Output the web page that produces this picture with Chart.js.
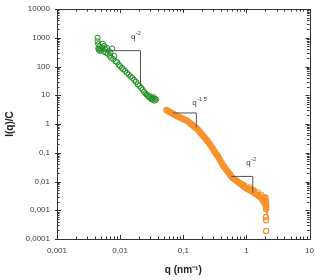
<!DOCTYPE html>
<html>
<head>
<meta charset="utf-8">
<script src="https://cdn.jsdelivr.net/npm/chart.js@4/dist/chart.umd.min.js"></script>
<style>
html,body{margin:0;padding:0;background:#fff}
#wrap{width:321px;height:280px}
</style>
</head>
<body>
<div id="wrap"><canvas id="saxs"></canvas></div>
<script>
// green curve (low q)
var greenQ=[0.0044,0.0044,0.0045,0.0045,0.0046,0.0047,0.0048,0.0049,0.0050,0.0052,0.0053,0.0055,0.0056,0.0058,0.0060,0.0062,0.0064,0.0066,0.0068,0.0070,0.0072,0.0075,0.0078,0.0081,0.0085,0.0090,0.0095,0.0100,0.0106,0.0112,0.0120,0.0128,0.0137,0.0146,0.0156,0.0167,0.0178,0.0190,0.0202,0.0215,0.0228,0.0240,0.0252,0.0264,0.0276,0.0288,0.0300,0.0310,0.0320,0.0330,0.0340,0.0350,0.0360,0.0370]
var greenI=[1000,750,420,600,380,500,350,430,390,460,620,330,520,400,300,440,280,350,240,300,200,420,180,230,150,140,115,102,90,80,70,60,52,45,40,34,29,24,21,18,15.5,13,11.5,10.5,9.5,8.5,9,7.5,8,7,8.5,6.5,7.5,7]

// orange curve (high q)
var orangeQ=[0.054,0.0565,0.059,0.062,0.065,0.068,0.071,0.074,0.078,0.081,0.085,0.089,0.093,0.098,0.102,0.107,0.112,0.117,0.123,0.129,0.135,0.141,0.148,0.155,0.162,0.170,0.178,0.186,0.195,0.204,0.214,0.224,0.234,0.245,0.257,0.269,0.282,0.295,0.309,0.324,0.339,0.355,0.372,0.389,0.407,0.427,0.447,0.468,0.490,0.513,0.537,0.562,0.589,0.617,0.646,0.676,0.708,0.741,0.776,0.813,0.851,0.891,0.933,0.977,1.02,1.07,1.12,1.17,1.23,1.29,1.35,1.41,1.48,1.55,1.62,1.70,1.78,1.86,1.95,2.0,2.04]
var orangeI=[3.09,2.91,2.75,2.58,2.43,2.29,2.16,2.06,1.94,1.87,1.77,1.69,1.61,1.52,1.45,1.38,1.32,1.26,1.16,1.06,0.98,0.90,0.82,0.76,0.70,0.64,0.57,0.51,0.45,0.40,0.353,0.313,0.280,0.248,0.212,0.182,0.157,0.135,0.116,0.099,0.086,0.074,0.062,0.052,0.044,0.036,0.032,0.028,0.0243,0.0213,0.0186,0.0162,0.0142,0.0129,0.0120,0.0111,0.0104,0.0096,0.0089,0.0083,0.0076,0.0071,0.0065,0.0060,0.0057,0.0054,0.0051,0.0048,0.0045,0.0043,0.0039,0.0037,0.0034,0.0032,0.0030,0.0027,0.0024,0.0020,0.0017,0.0016,0.0014]
// scattered points around the band and the tail at the end
var orangeTailQ=[0.9,1.1,1.2,1.3,1.5,1.7,1.9,2.0,1.95,2.05,2.06,2.06,2.05,2.04,2.05,2.05]
var orangeTailI=[0.0078,0.0062,0.0047,0.005,0.0042,0.0035,0.0028,0.0028,0.0024,0.0021,0.0017,0.0013,0.0011,0.00058,0.00045,0.00019]

var xTicks=[0.001,0.01,0.1,1,10]
var xLabels=['0,001','0,01','0,1','1','10']
var yTicks=[0.0001,0.001,0.01,0.1,1,10,100,1000,10000]
var yLabels=['0,0001','0,001','0,01','0,1','1','10','100','1000','10000']

// slope triangles: [q start, q corner, I top, I bottom]
var slopeTri=[[0.0064,0.021,355,20.3],[0.0687,0.161,2.42,0.76],[0.575,1.26,0.015,0.004]]
var slopeTxt=['-2','-1.5','-2']
var slopeTxtQ=[0.0148,0.139,0.99]
var slopeTxtI=[890,4.5,0.037]

function pts(qs,is){
  var out=[]
  for(var i=0;i<qs.length;i++) out.push({x:qs[i],y:is[i]})
  return out
}

var frame={
  id:'frame',
  afterDraw:function(chart){
    var c=chart.ctx, xs=chart.scales.x, ys=chart.scales.y, a=chart.chartArea
    c.save()
    c.strokeStyle='#333'
    c.lineWidth=1
    c.strokeRect(Math.round(a.left)+0.5,Math.round(a.top)+0.5,Math.round(a.right-a.left),Math.round(a.bottom-a.top))
    c.beginPath()
    for(var d=-3;d<=1;d++){
      for(var m=1;m<10;m++){
        var v=m*Math.pow(10,d)
        if(v>10) break
        var px=Math.round(xs.getPixelForValue(v))+0.5
        var L=(m==1)?4:2.5
        c.moveTo(px,a.bottom); c.lineTo(px,a.bottom-L)
        c.moveTo(px,a.top); c.lineTo(px,a.top+L)
      }
    }
    for(var d=-4;d<=4;d++){
      for(var m=1;m<10;m++){
        var v=m*Math.pow(10,d)
        if(v>10000) break
        var py=Math.round(ys.getPixelForValue(v))+0.5
        var L=(m==1)?4:2.5
        c.moveTo(a.left-(m==1?2:0),py); c.lineTo(a.left+L,py)
        c.moveTo(a.right,py); c.lineTo(a.right-L,py)
      }
    }
    c.stroke()
    // slope triangles
    c.strokeStyle='#555'
    c.beginPath()
    slopeTri.forEach(function(t){
      var x0=xs.getPixelForValue(t[0]), x1=xs.getPixelForValue(t[1])
      var y0=ys.getPixelForValue(t[2]), y1=ys.getPixelForValue(t[3])
      c.moveTo(x0,y0); c.lineTo(x1,y0); c.lineTo(x1,y1)
    })
    c.stroke()
    c.fillStyle='#333'
    c.textBaseline='alphabetic'
    c.textAlign='left'
    for(var i=0;i<slopeTxt.length;i++){
      var tx=xs.getPixelForValue(slopeTxtQ[i]), ty=ys.getPixelForValue(slopeTxtI[i])
      c.font='8px "Liberation Sans", Arial, sans-serif'
      c.fillText('q',tx,ty)
      var w=c.measureText('q').width
      c.font='5.5px "Liberation Sans", Arial, sans-serif'
      c.fillText(slopeTxt[i],tx+w+0.5,ty-4)
    }
    c.restore()
  }
}

var orange='#f7922c'

new Chart(document.getElementById('saxs'),{
  type:'scatter',
  data:{
    datasets:[{
      label:'low q',
      data:pts(greenQ,greenI),
      pointStyle:'circle',
      pointRadius:2.6,
      pointBorderWidth:1,
      pointBorderColor:'#1f8f1f',
      pointBackgroundColor:'rgba(0,0,0,0)'
    },{
      label:'high q',
      data:pts(orangeQ,orangeI),
      showLine:true,
      borderColor:orange,
      borderWidth:4,
      pointStyle:'circle',
      pointRadius:2.6,
      pointBorderWidth:1.2,
      pointBorderColor:orange,
      pointBackgroundColor:'rgba(0,0,0,0)'
    },{
      label:'high q tail',
      data:pts(orangeTailQ,orangeTailI),
      pointStyle:'circle',
      pointRadius:2.6,
      pointBorderWidth:1.2,
      pointBorderColor:orange,
      pointBackgroundColor:'rgba(0,0,0,0)'
    }]
  },
  plugins:[frame],
  options:{
    responsive:true,
    maintainAspectRatio:false,
    animation:false,
    layout:{padding:{top:9,right:10,left:0,bottom:2}},
    plugins:{legend:{display:false},tooltip:{enabled:false}},
    scales:{
      x:{
        type:'logarithmic',
        min:0.001,max:10,
        afterBuildTicks:function(s){s.ticks=xTicks.map(function(v){return {value:v}})},
        afterFit:function(s){s.height=39},
        grid:{display:false,drawTicks:false},
        border:{display:false},
        ticks:{
          padding:7,
          maxRotation:0,
          autoSkip:false,
          color:'#404040',
          font:{size:8,family:'"Liberation Sans", Arial, sans-serif'},
          callback:function(v,i){return xLabels[i]}
        },
        title:{display:true,text:'q (nm\u207B\u00B9)',color:'#222',padding:{top:0,bottom:2},
          font:{size:10,weight:'bold',family:'"Liberation Sans", Arial, sans-serif'}}
      },
      y:{
        type:'logarithmic',
        min:0.0001,max:10000,
        afterBuildTicks:function(s){s.ticks=yTicks.map(function(v){return {value:v}})},
        afterFit:function(s){s.width=57; s.paddingTop=0; s.paddingBottom=0},
        grid:{display:false,drawTicks:false},
        border:{display:false},
        ticks:{
          padding:7,
          autoSkip:false,
          color:'#404040',
          font:{size:8,family:'"Liberation Sans", Arial, sans-serif'},
          callback:function(v,i){return yLabels[i]}
        },
        title:{display:true,text:'I(q)/C',color:'#222',padding:{top:4,bottom:4},
          font:{size:10,weight:'bold',family:'"Liberation Sans", Arial, sans-serif'}}
      }
    }
  }
})
</script>
</body>
</html>
